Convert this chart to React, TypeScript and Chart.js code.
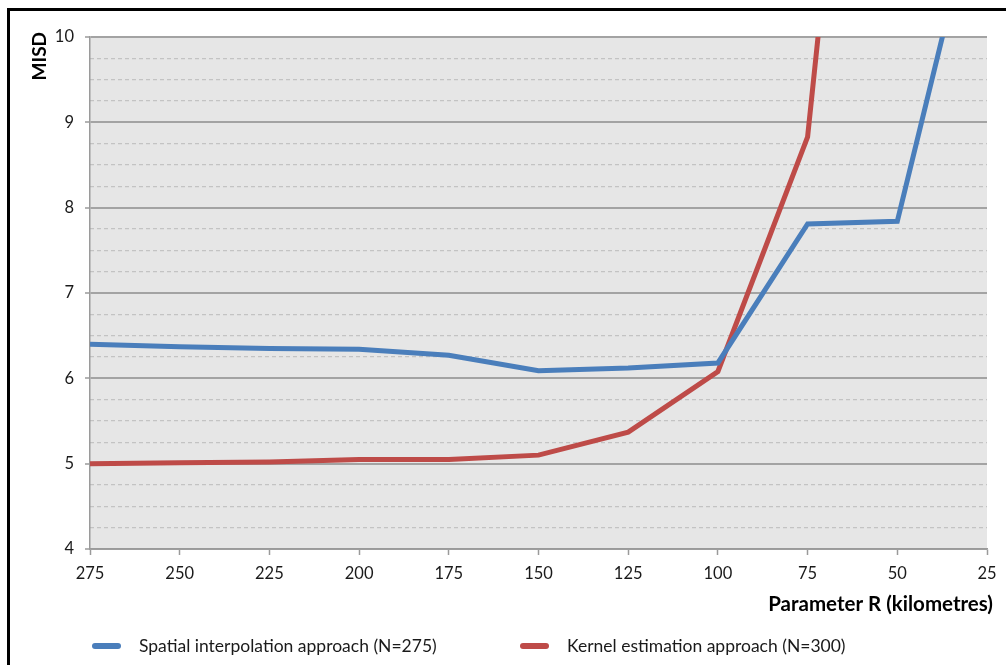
import React, { useEffect, useRef } from "react";
import { Chart, registerables } from "chart.js";

Chart.register(...registerables);

// ---- data ----
const radiusKm = [275, 250, 225, 200, 175, 150, 125, 100, 75, 50, 25];
const spatialMisd = [6.4, 6.37, 6.35, 6.34, 6.27, 6.09, 6.12, 6.18, 7.81, 7.84, 12.14];
const kernelRadiusKm = [275, 250, 225, 200, 175, 150, 125, 100, 75, 50];
const kernelMisd = [5.0, 5.01, 5.02, 5.05, 5.05, 5.1, 5.37, 6.08, 8.83, 18.9];
const seriesLabels = [
  "Spatial interpolation approach (N=275)",
  "Kernel estimation approach (N=300)",
];
const seriesColors = ["#4a7ebb", "#be4b48"];
const yMin = 4;
const yMax = 10;
const xMin = 25;
const xMax = 275;
const xTitle = "Parameter R (kilometres)";
const yTitle = "MISD";

const FONT = "Lato";

const plotBgPlugin = {
  id: "plotBg",
  beforeDraw(chart: any) {
    const { ctx, chartArea } = chart;
    if (!chartArea) return;
    ctx.save();
    ctx.fillStyle = "#e6e6e6";
    ctx.fillRect(chartArea.left, chartArea.top, chartArea.right - chartArea.left, chartArea.bottom - chartArea.top);
    ctx.restore();
  },
};

const titlesPlugin = {
  id: "axisTitles",
  afterDraw(chart: any) {
    const { ctx, chartArea } = chart;
    ctx.save();
    ctx.fillStyle = "#000";
    // x title, right-aligned at the right end of the axis
    ctx.font = `bold 20.5px ${FONT}`;
    ctx.textAlign = "right";
    ctx.textBaseline = "middle";
    ctx.fillText(xTitle, chartArea.right + 6, 604);
    // y title, rotated, ending near the top of the axis
    ctx.translate(40, chartArea.top - 5);
    ctx.rotate(-Math.PI / 2);
    ctx.font = `bold 19px ${FONT}`;
    ctx.textAlign = "right";
    ctx.textBaseline = "middle";
    ctx.fillText(yTitle, 0, 0);
    ctx.restore();
  },
};

const bottomLegendPlugin = {
  id: "bottomLegend",
  afterDraw(chart: any) {
    const { ctx } = chart;
    const starts = [92, 520];
    const y = 646;
    ctx.save();
    chart.data.datasets.forEach((ds: any, i: number) => {
      const x = starts[i];
      ctx.strokeStyle = ds.borderColor;
      ctx.lineWidth = 6;
      ctx.lineCap = "round";
      ctx.beginPath();
      ctx.moveTo(x + 3, y);
      ctx.lineTo(x + 26, y);
      ctx.stroke();
      ctx.fillStyle = "#1a1a1a";
      ctx.font = `17.5px ${FONT}`;
      ctx.textBaseline = "middle";
      ctx.textAlign = "left";
      ctx.fillText(ds.label, x + 47, y);
    });
    ctx.restore();
  },
};

export default function App() {
  const canvasRef = useRef<HTMLCanvasElement | null>(null);

  useEffect(() => {
    if (!canvasRef.current) return;
    const chart = new Chart(canvasRef.current, {
      type: "line",
      data: {
        datasets: [
          {
            label: seriesLabels[0],
            data: radiusKm.map((x, i) => ({ x, y: spatialMisd[i] })),
            borderColor: seriesColors[0],
            backgroundColor: seriesColors[0],
            borderWidth: 5,
            pointRadius: 0,
            tension: 0,
            yAxisID: "y",
          },
          {
            label: seriesLabels[1],
            data: kernelRadiusKm.map((x, i) => ({ x, y: kernelMisd[i] })),
            borderColor: seriesColors[1],
            backgroundColor: seriesColors[1],
            borderWidth: 5,
            pointRadius: 0,
            tension: 0,
            yAxisID: "y",
          },
        ],
      },
      options: {
        responsive: false,
        animation: false,
        layout: { padding: { left: 0, right: 19, top: 37, bottom: 0 } },
        plugins: {
          legend: { display: false },
          tooltip: { enabled: false },
        },
        scales: {
          x: {
            type: "linear",
            reverse: true,
            min: xMin,
            max: xMax,
            ticks: {
              stepSize: 25,
              color: "#1a1a1a",
              font: { family: FONT, size: 16.5 },
              padding: 9,
              maxRotation: 0,
            },
            grid: {
              display: true,
              drawOnChartArea: false,
              drawTicks: true,
              tickLength: 6,
              tickColor: "#9a9a9a",
              tickWidth: 1.5,
            },
            border: { color: "#9a9a9a", width: 1.5 },
            title: { display: false },
            afterFit: (s: any) => {
              s.height = 116;
            },
          },
          y2: {
            type: "linear",
            position: "left",
            min: yMin,
            max: yMax,
            ticks: { display: false, stepSize: 0.25 },
            grid: {
              drawTicks: false,
              lineWidth: 1.3,
              color: (c: any) =>
                c.tick && Math.abs(c.tick.value - Math.round(c.tick.value)) < 1e-6 ? "rgba(0,0,0,0)" : "#c3c3c3",
            },
            border: { display: false, dash: [4, 3] },
            afterFit: (s: any) => {
              s.width = 0;
            },
          },
          y: {
            type: "linear",
            position: "left",
            min: yMin,
            max: yMax,
            ticks: {
              stepSize: 1,
              color: "#1a1a1a",
              font: { family: FONT, size: 16.5 },
              padding: 11,
            },
            grid: {
              color: "#a3a3a3",
              lineWidth: 2,
              drawTicks: true,
              tickLength: 5,
              tickColor: "#9a9a9a",
              tickWidth: 1.5,
            },
            border: { color: "#9a9a9a", width: 1.5 },
            title: { display: false },
            afterFit: (s: any) => {
              s.width = 90;
            },
          },
        },
      },
      plugins: [plotBgPlugin, titlesPlugin, bottomLegendPlugin],
    } as any);
    return () => chart.destroy();
  }, []);

  return (
    <div style={{ position: "absolute", left: 0, top: 0, width: 1006, height: 665, background: "#fff" }}>
      <canvas ref={canvasRef} width={1006} height={665} style={{ display: "block" }} />
      <div
        style={{
          position: "absolute",
          left: 7,
          top: 8,
          width: 1006,
          height: 665,
          borderLeft: "3px solid #000",
          borderTop: "3px solid #000",
          pointerEvents: "none",
        }}
      />
    </div>
  );
}
